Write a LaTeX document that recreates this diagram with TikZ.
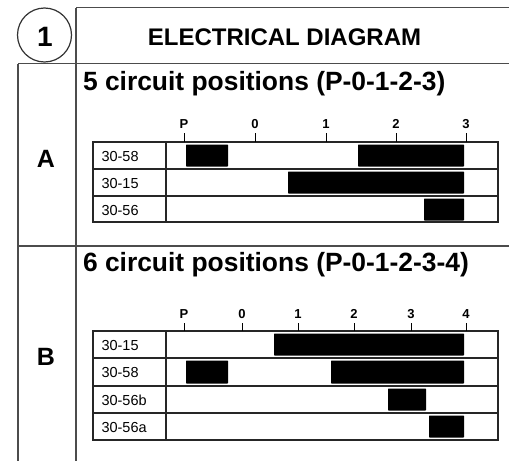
\documentclass[tikz,border=0pt]{standalone}
\usepackage{fontspec}
\setmainfont{Liberation Sans}
\begin{document}
\begin{tikzpicture}[x=1pt,y=-1pt,
  frame/.style={draw=black!70, line width=1.5pt},
  grid/.style={draw=black!85, line width=1.2pt},
  bar/.style={fill=black, rounded corners=0.6pt},
  tick/.style={draw=black, line width=1pt},
  ticklab/.style={font=\fontsize{13}{14}\selectfont\bfseries, anchor=base},
  rowlab/.style={font=\fontsize{14.5}{15}\selectfont, anchor=base west},
  head/.style={font=\fontsize{26.4}{28}\selectfont\bfseries, anchor=base west},
]
\useasboundingbox (0,0) rectangle (509,461);
% frame
\coordinate (tl) at (76,7.5);
\coordinate (tr) at (509,7.5);
\coordinate (vb) at (76,461);
\coordinate (ml) at (18,63.5);
\coordinate (mr) at (509,63.5);
\coordinate (lb) at (18,461);
\coordinate (sl) at (18,246);
\coordinate (sr) at (509,246);
\draw[frame] (tl) -- (tr);
\draw[frame] (tl) -- (vb);
\draw[frame] (ml) -- (mr);
\draw[frame] (ml) -- (lb);
\draw[frame] (sl) -- (sr);
\node[circle, draw=black!80, line width=1.2pt, minimum size=54pt, inner sep=0pt] (num) at (44.5,35) {};
\node[font=\fontsize{28}{30}\selectfont\bfseries, anchor=base] (numt) at (45,46.5) {1};
\node[font=\fontsize{24}{26}\selectfont\bfseries, anchor=base] (title) at (284.5,45) {ELECTRICAL DIAGRAM};
\node[font=\fontsize{25}{26}\selectfont\bfseries, anchor=base] (A) at (46,167) {A};
\node[font=\fontsize{25}{26}\selectfont\bfseries, anchor=base] (B) at (46,365) {B};
\node[head] (hA) at (79.5,90) {5 circuit positions (P-0-1-2-3)};
\node[head] (hB) at (79.5,271) {6 circuit positions (P-0-1-2-3-4)};
% ---------- table A
\draw[grid] (93,142) rectangle (498,222);
\draw[grid] (93,169) -- (498,169);
\draw[grid] (93,196) -- (498,196);
\draw[grid] (166,142) -- (166,222);
\foreach \x/\l in {184/P,255/0,326/1,396/2,466/3}{
  \draw[tick] (\x,133) -- (\x,142);
  \node[ticklab] at (\x,128.5) {\l};
}
\node[rowlab] (a1) at (98,161.5) {30-58};
\node[rowlab] (a2) at (98,188.5) {30-15};
\node[rowlab] (a3) at (98,215) {30-56};
\fill[bar] (186,144.5) rectangle (228,166.5);
\fill[bar] (358,144.5) rectangle (464,166.5);
\fill[bar] (288,171.5) rectangle (464,193.5);
\fill[bar] (424,198.5) rectangle (464,220.5);
% ---------- table B
\draw[grid] (93,331) rectangle (498,440);
\draw[grid] (93,358) -- (498,358);
\draw[grid] (93,386) -- (498,386);
\draw[grid] (93,413) -- (498,413);
\draw[grid] (166,331) -- (166,440);
\foreach \x/\l in {184/P,242/0,298/1,354/2,411/3,466/4}{
  \draw[tick] (\x,323) -- (\x,331);
  \node[ticklab] at (\x,318.5) {\l};
}
\node[rowlab] (b1) at (98,350) {30-15};
\node[rowlab] (b2) at (98,377.5) {30-58};
\node[rowlab] (b3) at (98,405) {30-56b};
\node[rowlab] (b4) at (98,432) {30-56a};
\fill[bar] (274,333.5) rectangle (464,355.5);
\fill[bar] (186,360.5) rectangle (228,383.5);
\fill[bar] (331,360.5) rectangle (464,383.5);
\fill[bar] (388,388.5) rectangle (426,410.5);
\fill[bar] (429,415.5) rectangle (464,437.5);
\end{tikzpicture}
\end{document}
